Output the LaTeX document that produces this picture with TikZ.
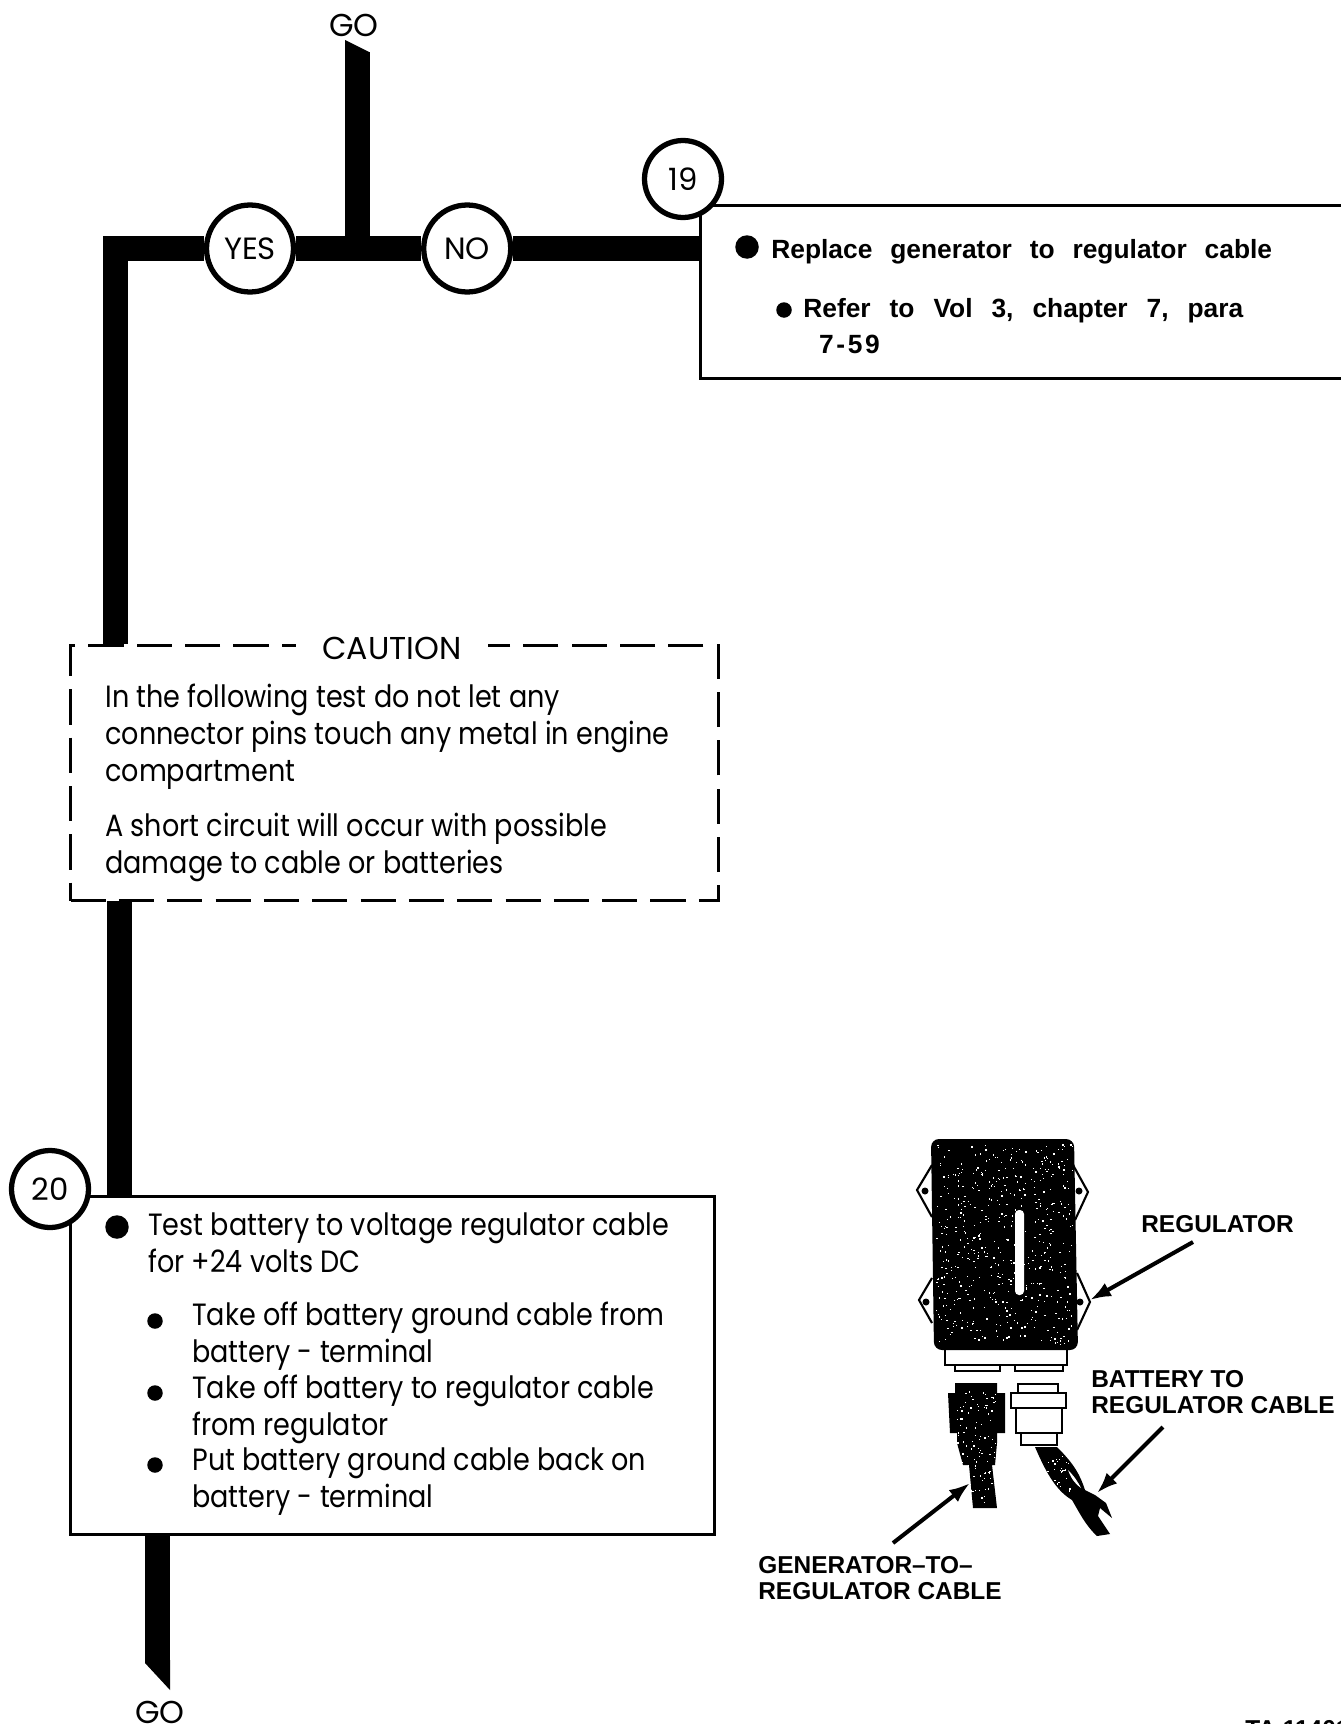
\documentclass[tikz,border=0pt]{standalone}
\usepackage{fontspec}
\usetikzlibrary{positioning, arrows.meta, backgrounds}
\newfontfamily\chartfont[FakeStretch=0.88]{Poppins}
\newfontfamily\headfont{Poppins}
\newfontfamily\notefont{Liberation Sans}

% white flecks over the dark parts of the photo
\newcommand{\flecks}[5]{%
  \foreach \n in {1,...,#5} {
    \pgfmathsetmacro{\fx}{#1+#3*rnd}
    \pgfmathsetmacro{\fy}{#2+#4*rnd}
    \fill[white] (\fx,\fy) rectangle ++(1.3,1.3);
  }
}

\begin{document}
\begin{tikzpicture}[
    x=0.02cm, y=-0.02cm,
    ring/.style={draw, circle, fill=white, line width=3pt, inner sep=0pt, text=black, font=\headfont\fontsize{17.5}{20}\selectfont},
    decision/.style={ring, minimum size=1.74cm},
    stepnum/.style={ring, minimum size=1.54cm},
    bar/.style={line width=0.5cm},
    box/.style={draw, rectangle, fill=white, line width=1.9pt, inner sep=0pt, anchor=north west},
    chart/.style={anchor=base west, align=left, inner sep=0pt, font=\chartfont\fontsize{17.5}{21}\selectfont},
    head/.style={inner sep=0pt, font=\headfont\fontsize{18}{20}\selectfont},
    note/.style={anchor=base west, align=left, inner sep=0pt, font=\notefont\bfseries\fontsize{15}{20.4}\selectfont, execute at begin node={\spaceskip=0.68em\relax}},
    bigdot/.style={circle, fill=black, inner sep=0pt, minimum size=0.47cm},
    dot/.style={circle, fill=black, inner sep=0pt, minimum size=0.31cm},
    tag/.style={anchor=base west, align=left, inner sep=0pt, font=\notefont\bfseries\fontsize{13.9}{14.6}\selectfont},
    arrow/.style={-{Latex[length=0.42cm, width=0.3cm]}, line width=2.3pt}
]
\useasboundingbox (0,0) rectangle (1340,1724);

% decision row
\node[decision] (yes) at (250,248.5) {YES};
\node[decision, right=2.5cm of yes] (no) {NO};
\node[stepnum] (num19) at (683,179) {19};
\coordinate (corner) at (115.5,249.5);
\coordinate (gojoin) at (357,248.5);
\coordinate (gotip) at (357,52);
\node[head, above=0.3cm of gotip, xshift=-0.06cm] (gotop) {GO};

% step 19
\begin{scope}[on background layer]
\node[box, minimum width=13.14cm, minimum height=3.46cm] (box19) at (699,204) {};
\end{scope}
\node[bigdot] (dot19) at (747,247) {};
\node[note] (replace) at (771,258) {Replace generator to regulator cable};
\node[dot] (dot19a) at (784,310) {};
\node[note] (refer) at (803,353) {\spaceskip=0.72em\relax Refer to Vol 3, chapter 7, para\\\hspace*{9pt}\addfontfeature{LetterSpace=10}7-59};

% caution
\node[box, dashed, dash pattern=on 20pt off 7.5pt, minimum width=12.96cm, minimum height=5.1cm] (caution) at (69,644) {};
\node[head, anchor=base, fill=white, inner xsep=0.52cm, inner ysep=3pt] (cautionhead) at (392,659) {CAUTION};
\node[chart] (cautiontext) at (105,873) {In the following test do not let any\\connector pins touch any metal in engine\\compartment\\[10pt]A short circuit will occur with possible\\damage to cable or batteries};

% step 20
\node[box, minimum width=12.88cm, minimum height=6.76cm] (box20) at (69,1195) {};
\node[stepnum] (num20) at (50,1189) {20};
\node[bigdot] (dot20) at (117,1227) {};
\node[chart] (test) at (148,1272) {Test battery to voltage regulator cable\\for +24 volts DC};
\node[dot] (dot20a) at (155,1321) {};
\node[chart] (takeground) at (192,1362) {Take off battery ground cable from\\battery - terminal};
\node[dot] (dot20b) at (155,1393) {};
\node[chart] (takecable) at (192,1435) {Take off battery to regulator cable\\from regulator};
\node[dot] (dot20c) at (155,1465) {};
\node[chart] (putback) at (192,1507) {Put battery ground cable back on\\battery - terminal};
\coordinate (gotail) at (157.5,1663);
\node[head] (gobottom) at (160,1712) {GO};

% flow lines
\begin{scope}[on background layer]
\draw[bar, line join=miter] (yes) -- (yes -| corner) -- (corner |- caution.north);
\draw[bar] (yes) -- (no);
\draw[bar] (no) -- (no -| box19.west);
\draw[bar] (gojoin) -- (gotip);
\fill (345,40) -- (369,52) -- (369,54) -- (345,54) -- cycle;
\draw[bar] (119.5,900) -- (119.5,1197);
\draw[bar] (gotail |- box20.south) -- (gotail);
\fill (145,1660) -- (170,1660) -- (170,1690) -- (145,1663) -- cycle;
\end{scope}

% regulator
\draw[line width=1.2pt, fill=white] (932,1165) -- (917,1190) -- (932,1217) (1073,1165) -- (1088,1192) -- (1075,1220);
\draw[line width=1.2pt] (932,1278) -- (919,1300) -- (932,1323) (1077,1273) -- (1090,1302) -- (1077,1330);
\foreach \hx/\hy in {925/1191, 1079/1191, 926/1302, 1080/1302} {
  \fill (\hx,\hy) circle (0.07cm);
}
\draw[line width=1.3pt, fill=white] (945,1345) rectangle (1067,1365);
\draw[line width=1.3pt, fill=white] (955,1365) rectangle (1000,1371);
\draw[line width=1.3pt, fill=white] (1015,1365) rectangle (1063,1371);
\fill[rounded corners=0.16cm] (931,1139) -- (1074,1139) -- (1078,1350) -- (934,1350) -- cycle;
\pgfmathsetseed{19}
\flecks{936}{1144}{136}{200}{520}
\fill[white, rounded corners=0.08cm] (1015,1210) rectangle (1024,1295);

% generator cable plug
\fill (955,1383) -- (997,1383) -- (997,1393) -- (1005,1393) -- (1005,1433) -- (997,1433) -- (997,1443) -- (995,1465) -- (992,1465) -- (997,1508) -- (973,1508) -- (969,1465) -- (963,1465) -- (957,1443) -- (957,1433) -- (950,1433) -- (948,1393) -- (955,1393) -- cycle;
\flecks{955}{1390}{40}{112}{110}

% battery cable plug
\draw[line width=1.3pt, fill=white] (1018,1384) rectangle (1058,1393);
\draw[line width=1.3pt, fill=white] (1021,1433) rectangle (1057,1445);
\draw[line width=1.3pt, fill=white] (1016,1408) rectangle (1062,1433);
\draw[line width=1.6pt, fill=white] (1011,1393) rectangle (1066,1408);
\fill (1035,1447) -- (1057,1447) .. controls (1075,1465) and (1080,1475) .. (1085,1490) -- (1095,1495) -- (1106,1503) -- (1112,1518) -- (1100,1508) -- (1098,1516) -- (1110,1534) -- (1097,1536) .. controls (1085,1525) and (1078,1510) .. (1072,1500) .. controls (1055,1490) and (1045,1470) .. cycle;
\fill[white] (1068,1470) .. controls (1074,1476) and (1078,1482) .. (1081,1488) .. controls (1075,1484) and (1071,1478) .. cycle;
\flecks{1044}{1452}{26}{40}{30}

% labels
\node[tag] (reglabel) at (1141,1232) {REGULATOR};
\node[tag] (batlabel) at (1091,1413) {BATTERY TO\\REGULATOR CABLE};
\node[tag] (genlabel) at (758,1599) {GENERATOR–TO–\\REGULATOR CABLE};
\node[tag] (talabel) at (1245,1737) {TA 11401};

\coordinate (regfrom) at (1193,1242);
\coordinate (regto) at (1090,1300);
\coordinate (batfrom) at (1163,1427);
\coordinate (batto) at (1097,1493);
\coordinate (genfrom) at (893,1543);
\coordinate (gento) at (970,1483);
\draw[arrow] (regfrom) -- (regto);
\draw[arrow] (batfrom) -- (batto);
\draw[arrow] (genfrom) -- (gento);

\end{tikzpicture}
\end{document}
